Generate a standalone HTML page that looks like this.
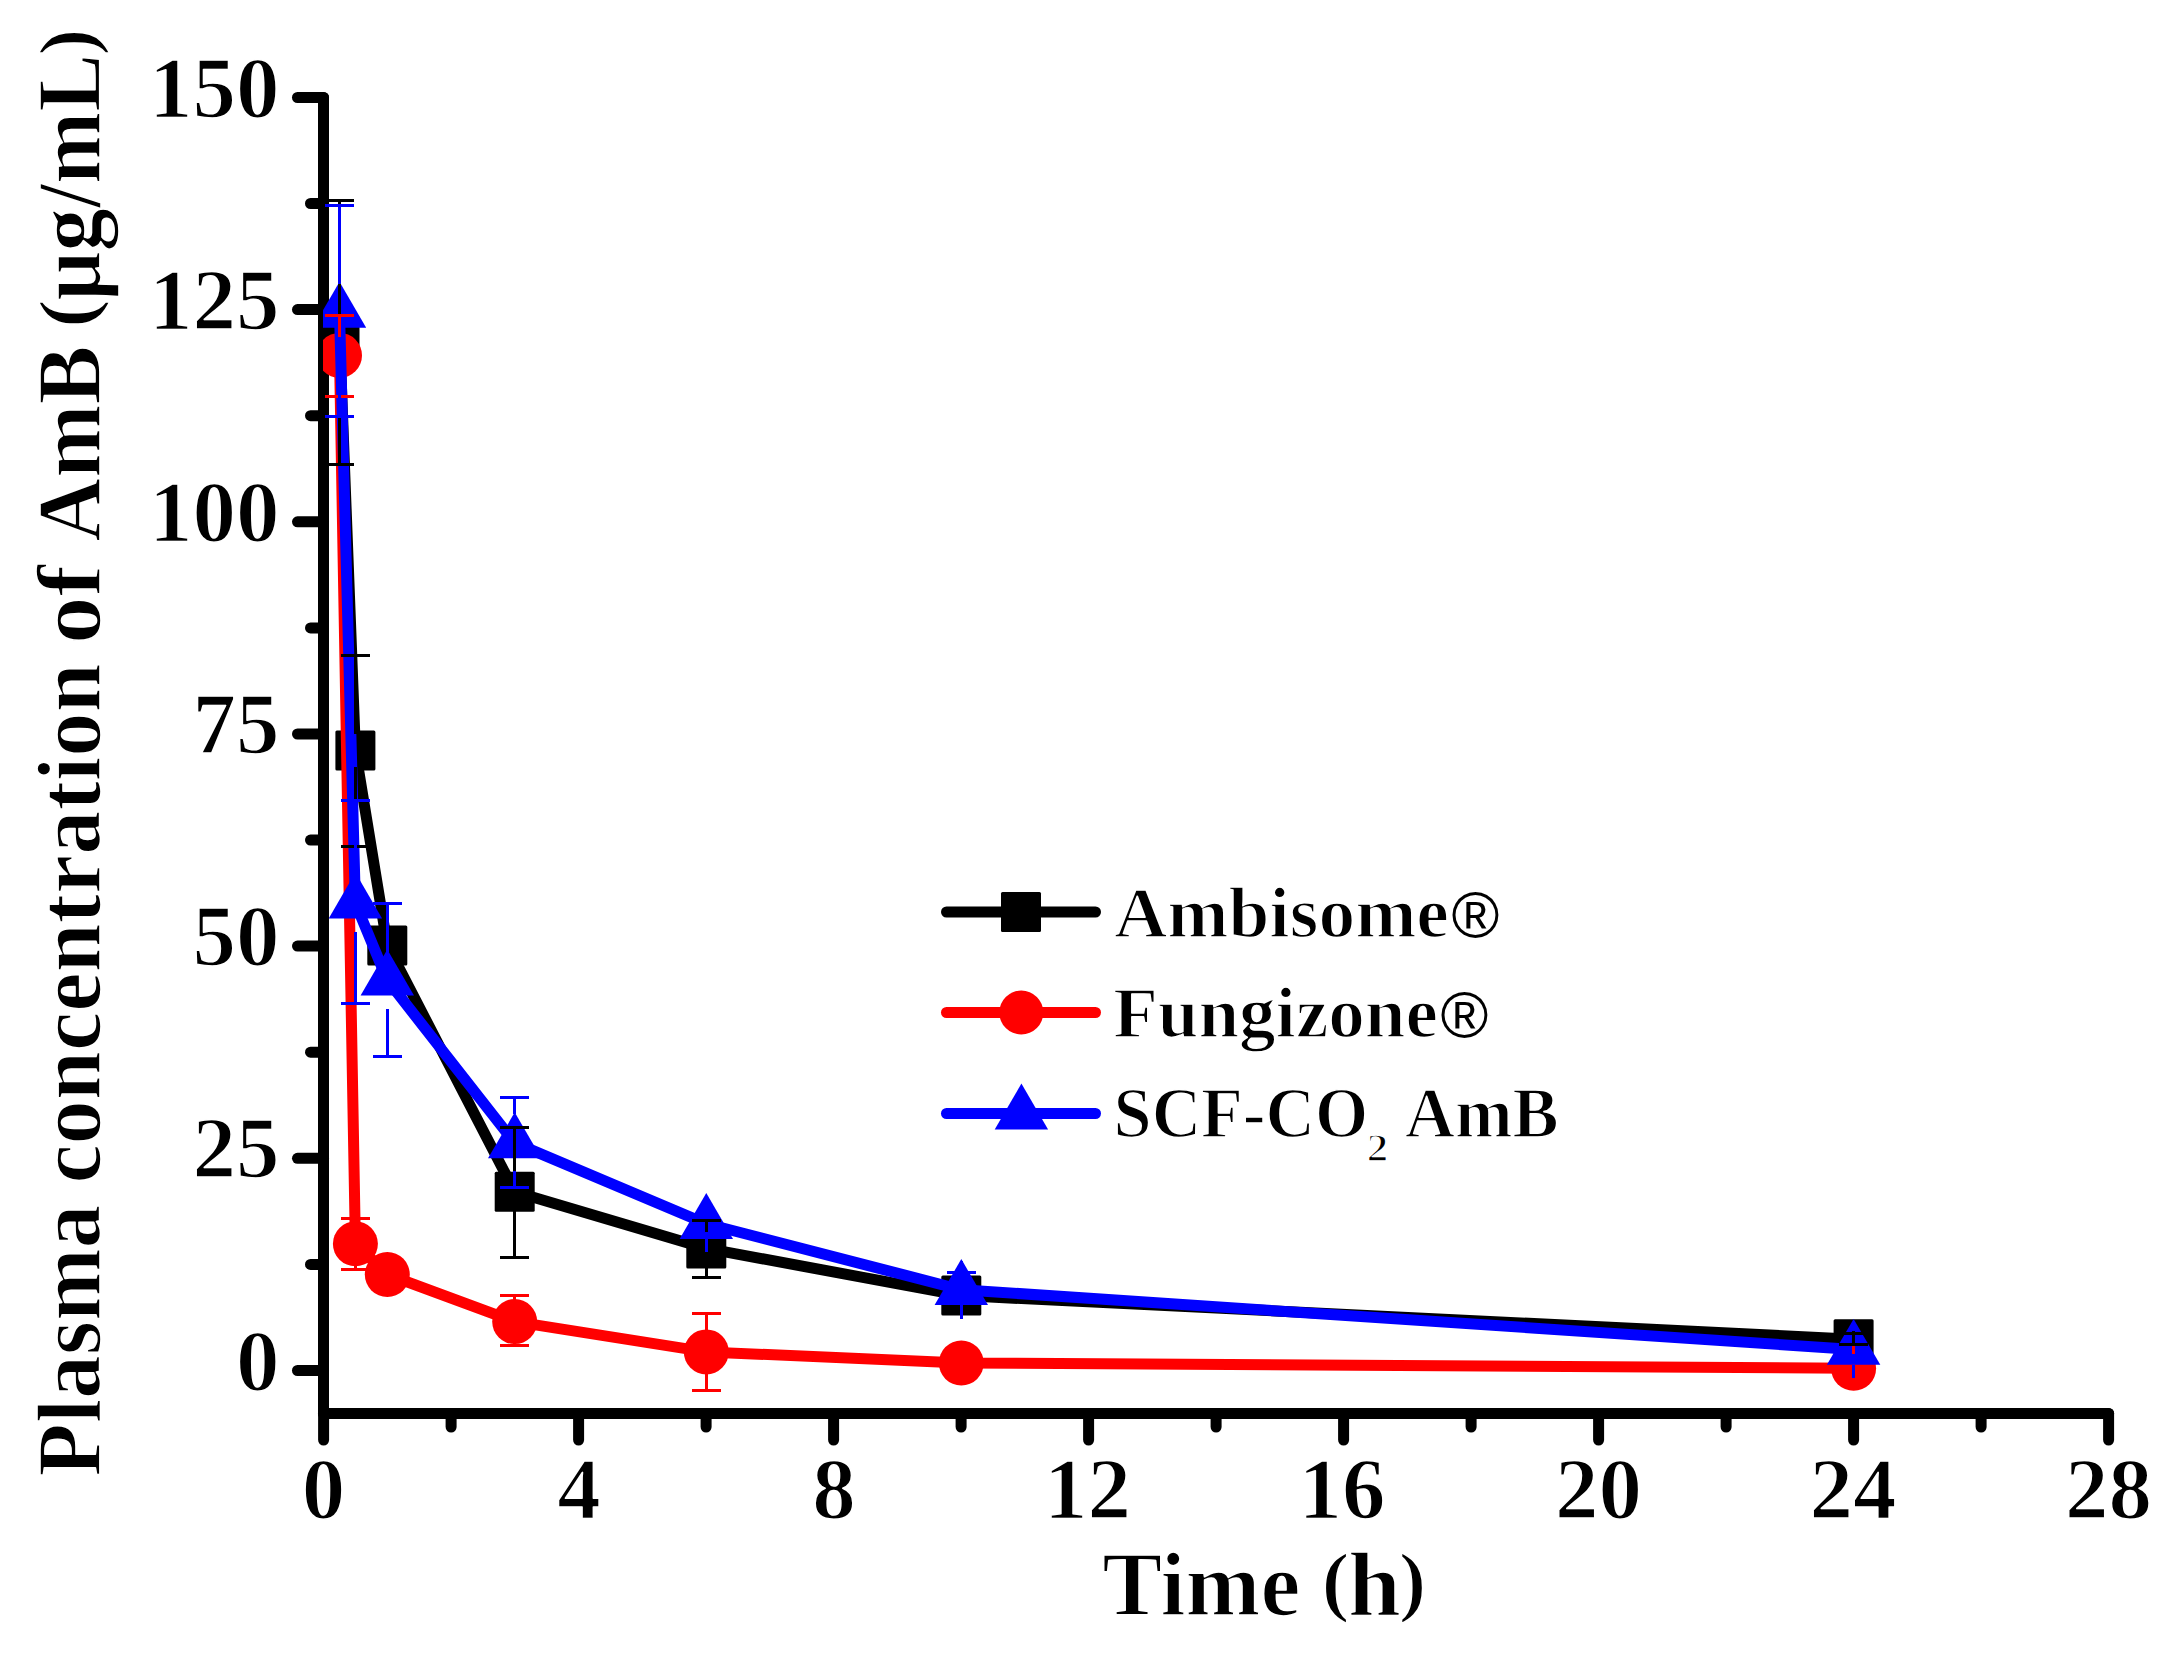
<!DOCTYPE html>
<html lang="en"><head><meta charset="utf-8"><title>Plasma concentration of AmB</title>
<style>html,body{margin:0;padding:0;background:#fff}body{width:2174px;height:1653px;overflow:hidden}svg{display:block}text{font-family:"Liberation Serif","DejaVu Serif",serif;font-weight:bold;fill:#000;stroke:#fff;stroke-width:1.6px;stroke-linejoin:round}.reg{font-family:"Liberation Sans","DejaVu Sans",sans-serif;font-weight:normal;stroke:none}</style></head><body>
<svg width="2174" height="1653" viewBox="0 0 2174 1653">
<rect width="2174" height="1653" fill="#fff"/>
<defs><clipPath id="plot"><rect x="323" y="60" width="1800" height="1353.5"/></clipPath></defs>
<g stroke="#000" stroke-width="11" stroke-linecap="round" fill="none">
<line x1="297.5" x2="323.5" y1="1370.5" y2="1370.5"/>
<line x1="297.5" x2="323.5" y1="1158.3" y2="1158.3"/>
<line x1="297.5" x2="323.5" y1="946.1" y2="946.1"/>
<line x1="297.5" x2="323.5" y1="734.0" y2="734.0"/>
<line x1="297.5" x2="323.5" y1="521.8" y2="521.8"/>
<line x1="297.5" x2="323.5" y1="309.6" y2="309.6"/>
<line x1="297.5" x2="323.5" y1="97.5" y2="97.5"/>
<line x1="310.5" x2="323.5" y1="1264.4" y2="1264.4"/>
<line x1="310.5" x2="323.5" y1="1052.2" y2="1052.2"/>
<line x1="310.5" x2="323.5" y1="840.1" y2="840.1"/>
<line x1="310.5" x2="323.5" y1="627.9" y2="627.9"/>
<line x1="310.5" x2="323.5" y1="415.7" y2="415.7"/>
<line x1="310.5" x2="323.5" y1="203.5" y2="203.5"/>
<line y1="1413.5" y2="1440" x1="323.6" x2="323.6"/>
<line y1="1413.5" y2="1440" x1="578.6" x2="578.6"/>
<line y1="1413.5" y2="1440" x1="833.6" x2="833.6"/>
<line y1="1413.5" y2="1440" x1="1088.6" x2="1088.6"/>
<line y1="1413.5" y2="1440" x1="1343.6" x2="1343.6"/>
<line y1="1413.5" y2="1440" x1="1598.6" x2="1598.6"/>
<line y1="1413.5" y2="1440" x1="1853.6" x2="1853.6"/>
<line y1="1413.5" y2="1440" x1="2108.6" x2="2108.6"/>
<line y1="1413.5" y2="1427" x1="451.1" x2="451.1"/>
<line y1="1413.5" y2="1427" x1="706.1" x2="706.1"/>
<line y1="1413.5" y2="1427" x1="961.1" x2="961.1"/>
<line y1="1413.5" y2="1427" x1="1216.1" x2="1216.1"/>
<line y1="1413.5" y2="1427" x1="1471.1" x2="1471.1"/>
<line y1="1413.5" y2="1427" x1="1726.1" x2="1726.1"/>
<line y1="1413.5" y2="1427" x1="1981.1" x2="1981.1"/>
</g>
<g stroke="#000" stroke-width="11" stroke-linecap="round" fill="none">
<line x1="323.5" x2="323.5" y1="97.5" y2="1413.5"/>
<line x1="323.5" x2="2108.6" y1="1413.5" y2="1413.5"/>
</g>
<g clip-path="url(#plot)">
<polyline points="339.5,336.0 355.4,750.5 387.3,945.4 514.7,1191.8 706.3,1248.4 961.3,1295.6 1853.6,1339.2" fill="none" stroke="#000" stroke-width="11" stroke-linejoin="round"/>
<rect x="319.5" y="316.0" width="40" height="40" rx="1.5" fill="#000"/>
<rect x="335.4" y="730.5" width="40" height="40" rx="1.5" fill="#000"/>
<rect x="367.3" y="925.4" width="40" height="40" rx="1.5" fill="#000"/>
<rect x="494.7" y="1171.8" width="40" height="40" rx="1.5" fill="#000"/>
<rect x="686.3" y="1228.4" width="40" height="40" rx="1.5" fill="#000"/>
<rect x="941.3" y="1275.6" width="40" height="40" rx="1.5" fill="#000"/>
<rect x="1833.6" y="1319.2" width="40" height="40" rx="1.5" fill="#000"/>
<polyline points="339.5,355.4 355.4,1243.8 387.3,1274.5 514.7,1321.6 706.3,1351.9 961.3,1363.0 1853.6,1368.3" fill="none" stroke="#f00" stroke-width="11" stroke-linejoin="round"/>
<circle cx="339.5" cy="355.4" r="22.5" fill="#f00"/>
<circle cx="355.4" cy="1243.8" r="22.5" fill="#f00"/>
<circle cx="387.3" cy="1274.5" r="22.5" fill="#f00"/>
<circle cx="514.7" cy="1321.6" r="22.5" fill="#f00"/>
<circle cx="706.3" cy="1351.9" r="22.5" fill="#f00"/>
<circle cx="961.3" cy="1363.0" r="22.5" fill="#f00"/>
<circle cx="1853.6" cy="1368.3" r="22.5" fill="#f00"/>
<polyline points="339.5,312.4 355.4,903.1 387.3,980.2 514.7,1142.9 706.3,1223.7 961.3,1289.7 1853.6,1349.5" fill="none" stroke="#00f" stroke-width="11" stroke-linejoin="round"/>
<polygon points="339.5,281.8 312.8,327.7 366.2,327.7" fill="#00f"/>
<polygon points="355.4,872.5 328.7,918.4 382.1,918.4" fill="#00f"/>
<polygon points="387.3,949.6 360.6,995.5 414.0,995.5" fill="#00f"/>
<polygon points="514.7,1112.3 488.0,1158.2 541.4,1158.2" fill="#00f"/>
<polygon points="706.3,1193.1 679.6,1239.0 733.0,1239.0" fill="#00f"/>
<polygon points="961.3,1259.1 934.6,1305.0 988.0,1305.0" fill="#00f"/>
<polygon points="1853.6,1318.9 1826.9,1364.8 1880.3,1364.8" fill="#00f"/>
<g stroke="#000" stroke-width="3" fill="none" shape-rendering="crispEdges">
<line x1="339.5" x2="339.5" y1="200.5" y2="319.4"/>
<line x1="325.0" x2="354.0" y1="200.5" y2="200.5"/>
<line x1="339.5" x2="339.5" y1="352.6" y2="464.5"/>
<line x1="325.0" x2="354.0" y1="464.5" y2="464.5"/>
<line x1="355.4" x2="355.4" y1="655.5" y2="733.9"/>
<line x1="340.9" x2="369.9" y1="655.5" y2="655.5"/>
<line x1="355.4" x2="355.4" y1="767.1" y2="846.5"/>
<line x1="340.9" x2="369.9" y1="846.5" y2="846.5"/>
<line x1="514.7" x2="514.7" y1="1127.5" y2="1175.2"/>
<line x1="500.2" x2="529.2" y1="1127.5" y2="1127.5"/>
<line x1="514.7" x2="514.7" y1="1208.4" y2="1257.5"/>
<line x1="500.2" x2="529.2" y1="1257.5" y2="1257.5"/>
<line x1="706.3" x2="706.3" y1="1220.5" y2="1231.8"/>
<line x1="691.8" x2="720.8" y1="1220.5" y2="1220.5"/>
<line x1="706.3" x2="706.3" y1="1265.0" y2="1277.5"/>
<line x1="691.8" x2="720.8" y1="1277.5" y2="1277.5"/>
<line x1="1853.6" x2="1853.6" y1="1331.0" y2="1346.2"/>
<line x1="1839.1" x2="1868.1" y1="1333.7" y2="1333.7"/>
<line x1="1839.1" x2="1868.1" y1="1344.7" y2="1344.7"/>
</g>
<g stroke="#f00" stroke-width="3" fill="none" shape-rendering="crispEdges">
<line x1="339.5" x2="339.5" y1="315.5" y2="337.0"/>
<line x1="325.0" x2="354.0" y1="315.5" y2="315.5"/>
<line x1="339.5" x2="339.5" y1="373.8" y2="396.5"/>
<line x1="325.0" x2="354.0" y1="396.5" y2="396.5"/>
<line x1="355.4" x2="355.4" y1="1218.7" y2="1225.4"/>
<line x1="340.9" x2="369.9" y1="1218.7" y2="1218.7"/>
<line x1="355.4" x2="355.4" y1="1262.2" y2="1269.5"/>
<line x1="340.9" x2="369.9" y1="1269.5" y2="1269.5"/>
<line x1="514.7" x2="514.7" y1="1295.6" y2="1303.2"/>
<line x1="500.2" x2="529.2" y1="1295.6" y2="1295.6"/>
<line x1="514.7" x2="514.7" y1="1340.0" y2="1345.7"/>
<line x1="500.2" x2="529.2" y1="1345.7" y2="1345.7"/>
<line x1="706.3" x2="706.3" y1="1313.3" y2="1333.5"/>
<line x1="691.8" x2="720.8" y1="1313.3" y2="1313.3"/>
<line x1="706.3" x2="706.3" y1="1370.3" y2="1390.7"/>
<line x1="691.8" x2="720.8" y1="1390.7" y2="1390.7"/>
<line x1="1853.6" x2="1853.6" y1="1346.0" y2="1353.5"/>
</g>
<g stroke="#00f" stroke-width="3" fill="none" shape-rendering="crispEdges">
<line x1="339.5" x2="339.5" y1="205.5" y2="283.9"/>
<line x1="325.0" x2="354.0" y1="205.5" y2="205.5"/>
<line x1="339.5" x2="339.5" y1="340.9" y2="416.5"/>
<line x1="325.0" x2="354.0" y1="416.5" y2="416.5"/>
<line x1="355.4" x2="355.4" y1="800.8" y2="874.6"/>
<line x1="340.9" x2="369.9" y1="800.8" y2="800.8"/>
<line x1="355.4" x2="355.4" y1="931.6" y2="1003.7"/>
<line x1="340.9" x2="369.9" y1="1003.7" y2="1003.7"/>
<line x1="387.3" x2="387.3" y1="903.5" y2="951.7"/>
<line x1="372.8" x2="401.8" y1="903.5" y2="903.5"/>
<line x1="387.3" x2="387.3" y1="1008.7" y2="1056.5"/>
<line x1="372.8" x2="401.8" y1="1056.5" y2="1056.5"/>
<line x1="514.7" x2="514.7" y1="1097.2" y2="1114.4"/>
<line x1="500.2" x2="529.2" y1="1097.2" y2="1097.2"/>
<line x1="514.7" x2="514.7" y1="1171.4" y2="1187.4"/>
<line x1="500.2" x2="529.2" y1="1187.4" y2="1187.4"/>
<line x1="706.3" x2="706.3" y1="1239.0" y2="1252.0"/>
<line x1="961.3" x2="961.3" y1="1272.6" y2="1261.2"/>
<line x1="946.8" x2="975.8" y1="1272.6" y2="1272.6"/>
<line x1="961.3" x2="961.3" y1="1305.0" y2="1319.0"/>
<line x1="1853.6" x2="1853.6" y1="1364.8" y2="1377.6"/>
</g>
</g>
<g stroke-width="11" stroke-linecap="round">
<line x1="946.5" x2="1095.5" y1="912" y2="912" stroke="#000"/>
<line x1="946.5" x2="1095.5" y1="1012.5" y2="1012.5" stroke="#f00"/>
<line x1="946.5" x2="1095.5" y1="1113.5" y2="1113.5" stroke="#00f"/>
</g>
<rect x="1001" y="892" width="40" height="40" rx="1.5" fill="#000"/>
<circle cx="1021.3" cy="1012.5" r="22" fill="#f00"/>
<polygon points="1021.4,1083.6 994.7,1129.5 1048.1,1129.5" fill="#00f"/>
<text x="236.0" y="1389.5" font-size="87" textLength="43.5" lengthAdjust="spacingAndGlyphs">0</text>
<text x="192.5" y="1177.3" font-size="87" textLength="87.0" lengthAdjust="spacingAndGlyphs">25</text>
<text x="192.5" y="965.1" font-size="87" textLength="87.0" lengthAdjust="spacingAndGlyphs">50</text>
<text x="192.5" y="753.0" font-size="87" textLength="87.0" lengthAdjust="spacingAndGlyphs">75</text>
<text x="149.0" y="540.8" font-size="87" textLength="130.5" lengthAdjust="spacingAndGlyphs">100</text>
<text x="149.0" y="328.6" font-size="87" textLength="130.5" lengthAdjust="spacingAndGlyphs">125</text>
<text x="149.0" y="116.5" font-size="87" textLength="130.5" lengthAdjust="spacingAndGlyphs">150</text>
<text x="301.8" y="1517.6" font-size="87" textLength="43.5" lengthAdjust="spacingAndGlyphs">0</text>
<text x="557.3" y="1517.6" font-size="87" textLength="43.5" lengthAdjust="spacingAndGlyphs">4</text>
<text x="812.3" y="1517.6" font-size="87" textLength="43.5" lengthAdjust="spacingAndGlyphs">8</text>
<text x="1044.0" y="1517.6" font-size="87" textLength="87.0" lengthAdjust="spacingAndGlyphs">12</text>
<text x="1298.5" y="1517.6" font-size="87" textLength="87.0" lengthAdjust="spacingAndGlyphs">16</text>
<text x="1555.0" y="1517.6" font-size="87" textLength="87.0" lengthAdjust="spacingAndGlyphs">20</text>
<text x="1809.5" y="1517.6" font-size="87" textLength="87.0" lengthAdjust="spacingAndGlyphs">24</text>
<text x="2065.0" y="1517.6" font-size="87" textLength="87.0" lengthAdjust="spacingAndGlyphs">28</text>
<text id="xt" y="1614.5" font-size="90"><tspan x="1102.3" textLength="198.0" lengthAdjust="spacingAndGlyphs">Time</tspan> <tspan x="1321.6" dy="-7.2" font-size="78" textLength="28.0" lengthAdjust="spacingAndGlyphs">(</tspan><tspan x="1348.0" dy="7.2" textLength="52.9" lengthAdjust="spacingAndGlyphs">h</tspan><tspan x="1398.7" dy="-7.2" font-size="78" textLength="27.6" lengthAdjust="spacingAndGlyphs">)</tspan></text>
<text id="yt" transform="translate(100.3,1474.6) rotate(-90)" font-size="90"><tspan x="-1.8" textLength="271.9" lengthAdjust="spacingAndGlyphs">Plasma</tspan> <tspan x="291.0" textLength="520.3" lengthAdjust="spacingAndGlyphs">concentration</tspan> <tspan x="830.5" textLength="79.2" lengthAdjust="spacingAndGlyphs">of</tspan> <tspan x="932.8" textLength="196.2" lengthAdjust="spacingAndGlyphs">AmB</tspan> <tspan x="1146.6" dy="-7.3" font-size="78" textLength="28.8" lengthAdjust="spacingAndGlyphs">(</tspan><tspan x="1174.1" dy="7.3" textLength="246.5" lengthAdjust="spacingAndGlyphs">μg/mL</tspan><tspan x="1418.8" dy="-7.3" font-size="78" textLength="27.1" lengthAdjust="spacingAndGlyphs">)</tspan></text>
<text id="l1" y="937.2" font-size="72.3"><tspan x="1114.2" textLength="334.8" lengthAdjust="spacingAndGlyphs">Ambisome</tspan><tspan class="reg" x="1451.6" dy="-0.5" font-size="65">®</tspan></text>
<text id="l2" y="1037.0" font-size="72.3"><tspan x="1113.2" textLength="324.7" lengthAdjust="spacingAndGlyphs">Fungizone</tspan><tspan class="reg" x="1440.6" dy="-0.5" font-size="65">®</tspan></text>
<text id="l3" y="1137.3" font-size="72.3"><tspan x="1113.6" textLength="254.6" lengthAdjust="spacingAndGlyphs">SCF-CO</tspan><tspan x="1366.4" dy="23.3" font-size="40" textLength="21.9" lengthAdjust="spacingAndGlyphs">2</tspan> <tspan x="1405.0" dy="-23.3" textLength="153.6" lengthAdjust="spacingAndGlyphs">AmB</tspan></text>
</svg></body></html>
